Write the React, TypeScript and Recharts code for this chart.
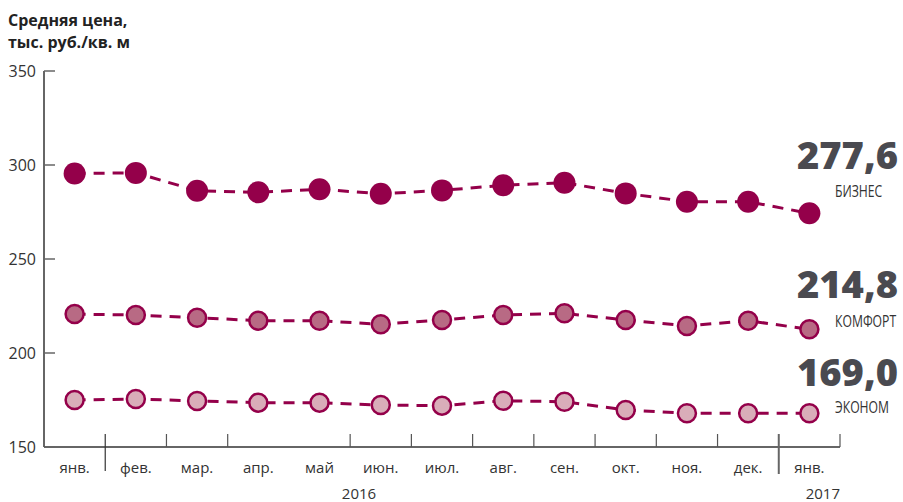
import React from 'react';
import { LineChart, Line, XAxis, YAxis } from 'recharts';

const months = ['янв.', 'фев.', 'мар.', 'апр.', 'май', 'июн.', 'июл.', 'авг.', 'сен.', 'окт.', 'ноя.', 'дек.', 'янв.'];
const business = [295.5, 295.8, 286.3, 285.5, 287.1, 284.7, 286.5, 289.2, 290.6, 284.9, 280.5, 280.5, 274.3];
const comfort = [220.7, 220.2, 218.8, 217.2, 217.2, 215.3, 217.6, 220.2, 221.1, 217.6, 214.4, 217.2, 212.6];
const economy = [175.0, 175.5, 174.5, 173.6, 173.6, 172.3, 172.0, 174.6, 174.1, 169.7, 167.9, 167.9, 167.9];
const yTicks = [150, 200, 250, 300, 350];
const boundaryTicks = [1, 2, 3, 5, 6, 7, 8, 9, 10, 11, 12, 13];
const yearDividers = [1, 12];
const years = ['2016', '2017'];
const titleLines = ['Средняя цена,', 'тыс. руб./кв. м'];
const latestValues = ['277,6', '214,8', '169,0'];
const segmentNames = ['БИЗНЕС', 'КОМФОРТ', 'ЭКОНОМ'];

const data = months.map((m, i) => ({
  x: i + 0.5,
  month: m,
  business: business[i],
  comfort: comfort[i],
  economy: economy[i],
}));

const centerTicks = months.map((_, i) => i + 0.5);
const xTicks = [...centerTicks, ...boundaryTicks].sort((a, b) => a - b);

const FONT = '"Open Sans", "Noto Sans", sans-serif';
const MAROON = '#94004a';

const XTick = (props: any) => {
  const { x, y, payload } = props;
  const v = payload.value as number;
  if (Number.isInteger(v)) {
    const idx = yearDividers.indexOf(v);
    if (idx >= 0) {
      return (
        <line
          x1={x}
          x2={x}
          y1={y - 13}
          y2={y + (idx === 0 ? 24 : 27)}
          stroke={idx === 0 ? '#333' : '#666'}
          strokeWidth={idx === 0 ? 1.2 : 2}
        />
      );
    }
    return <line x1={x} x2={x} y1={y - 13} y2={y} stroke="#555" strokeWidth={1.2} />;
  }
  return (
    <text x={x} y={y + 26} textAnchor="middle" fontFamily={FONT} fontSize={15} fill="#333">
      {months[Math.floor(v)]}
    </text>
  );
};

export default function App() {
  return (
    <div style={{ position: 'absolute', left: 0, top: 0, width: 903, height: 502, background: '#fff' }}>
      <LineChart
        width={903}
        height={502}
        data={data}
        margin={{ top: 71, right: 63, bottom: 0, left: 0 }}
      >
        <XAxis
          dataKey="x"
          type="number"
          domain={[0, 13]}
          ticks={xTicks}
          interval={0}
          tick={XTick}
          tickLine={false}
          tickSize={0}
          tickMargin={0}
          height={55}
          axisLine={{ stroke: '#333', strokeWidth: 1.5 }}
        />
        <YAxis
          type="number"
          domain={[150, 350]}
          ticks={yTicks}
          interval={0}
          width={44}
          tickSize={-11}
          tickMargin={19}
          axisLine={{ stroke: '#333', strokeWidth: 1.5 }}
          tickLine={{ stroke: '#666', strokeWidth: 1.5 }}
          tick={{ fontFamily: FONT, fontSize: 16, fill: '#333' }}
        />
        <Line
          dataKey="business"
          type="linear"
          stroke={MAROON}
          strokeWidth={3}
          strokeDasharray="11 8"
          dot={{ r: 11, fill: MAROON, stroke: MAROON, strokeWidth: 0, strokeDasharray: '' }}
          isAnimationActive={false}
        />
        <Line
          dataKey="comfort"
          type="linear"
          stroke={MAROON}
          strokeWidth={3}
          strokeDasharray="11 8"
          dot={{ r: 9, fill: '#b86a84', stroke: MAROON, strokeWidth: 2.5, strokeDasharray: '' }}
          isAnimationActive={false}
        />
        <Line
          dataKey="economy"
          type="linear"
          stroke={MAROON}
          strokeWidth={3}
          strokeDasharray="11 8"
          dot={{ r: 9, fill: '#d9adb9', stroke: MAROON, strokeWidth: 2.5, strokeDasharray: '' }}
          isAnimationActive={false}
        />
      </LineChart>
      <svg
        width={903}
        height={502}
        style={{ position: 'absolute', left: 0, top: 0, pointerEvents: 'none' }}
      >
        <text x={8} y={26} fontFamily={FONT} fontWeight={700} fontSize={16} fill="#222">{titleLines[0]}</text>
        <text x={8} y={48} fontFamily={FONT} fontWeight={700} fontSize={16} fill="#222">{titleLines[1]}</text>
        <text x={359} y={499} textAnchor="middle" fontFamily={FONT} fontSize={15} fill="#333">{years[0]}</text>
        <text x={840} y={499} textAnchor="end" fontFamily={FONT} fontSize={15} fill="#333">{years[1]}</text>
        {[169, 298, 386].map((by, i) => (
          <text key={'v' + i} x={898} y={by} textAnchor="end" fontFamily={FONT} fontWeight={800} fontSize={37}
            fill="#4a4a50" textLength={101} lengthAdjust="spacingAndGlyphs">{latestValues[i]}</text>
        ))}
        {[197, 327, 413].map((by, i) => (
          <text key={'n' + i} x={0} y={0} transform={`translate(835 ${by}) scale(0.74 1)`}
            fontFamily={FONT} fontSize={16.5} fill="#333">{segmentNames[i]}</text>
        ))}
      </svg>
    </div>
  );
}
